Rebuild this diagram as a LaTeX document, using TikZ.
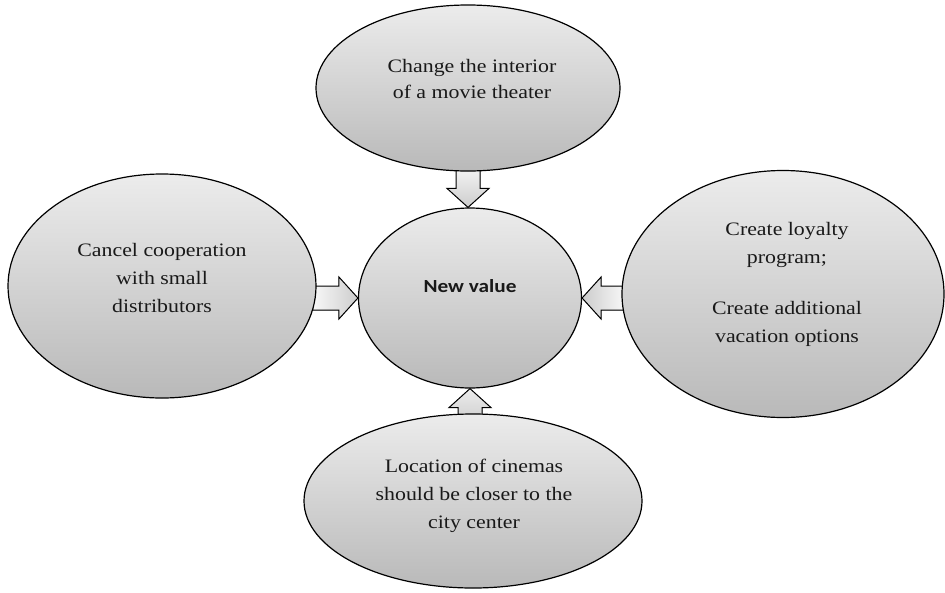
\documentclass[tikz,border=0pt]{standalone}
\usepackage{fontspec}
\setmainfont[FakeStretch=1.15]{Liberation Serif}
\newfontfamily\nvfont[FakeStretch=1.15]{Carlito}
\usetikzlibrary{shapes.geometric,calc,backgrounds}

\tikzset{
  bubble/.style={ellipse, draw=black, line width=1.2pt, top color=gray!15, bottom color=gray!55, inner sep=0pt},
  txt/.style={align=center, font=\fontsize{19}{28}\selectfont, inner sep=0pt, text=black!90, anchor=base},
  barrow/.style={draw=black, line width=1pt, line join=miter},
}

% #1 base coordinate, #2 tip coordinate, #3 shading options
\newcommand\blockarrow[3]{%
  \coordinate (#1h) at ($(#2)!19pt!(#1)$);
  \filldraw[barrow,#3]
    ($(#1)!12pt!90:(#2)$) -- ($(#1h)!12pt!90:(#2)$) -- ($(#1h)!21pt!90:(#2)$) -- (#2)
    -- ($(#1h)!21pt!-90:(#2)$) -- ($(#1h)!12pt!-90:(#2)$) -- ($(#1)!12pt!-90:(#2)$) -- cycle;
}

\begin{document}
\begin{tikzpicture}[x=1pt,y=-1pt]
\useasboundingbox (0,0) rectangle (945,592);

% ellipses
\node[bubble, minimum width=304pt, minimum height=166pt] (t) at (468,88) {};
\node[bubble, minimum width=223pt, minimum height=180pt] (c) at (470,298) {};
\node[bubble, minimum width=308pt, minimum height=224pt] (l) at (162,286) {};
\node[bubble, minimum width=322pt, minimum height=247pt] (r) at (783,294) {};
\node[bubble, minimum width=338pt, minimum height=174pt] (b) at (473,501) {};

% texts (anchor=base is the baseline of the last line)
\node[txt, font=\fontsize{19}{26.5}\selectfont] (tt) at (472,98.5)
  {Change the interior\\of a movie theater};
\node[txt] (lt) at (162,312)
  {Cancel cooperation\\with small\\distributors};
\node[txt] (rt) at (787,342)
  {Create loyalty\\program;\\[23pt]Create additional\\vacation options};
\node[txt] (bt) at (474,528)
  {Location of cinemas\\should be closer to the\\city center};
\node[txt, font=\nvfont\bfseries\fontsize{18.5}{22}\selectfont] (ct) at (470,292)
  {New value};

% block arrows behind the ellipses
\coordinate (ta) at ([yshift=4pt]t.south);
\coordinate (tb) at (ta |- c.north);
\coordinate (la) at ([xshift=-4pt]l.east |- c.west);
\coordinate (lb) at (c.west);
\coordinate (ra) at ([xshift=4pt]r.west |- c.east);
\coordinate (rb) at (c.east);
\coordinate (ba) at ([yshift=-4pt]c.south |- b.north);
\coordinate (bb) at (c.south);
\begin{scope}[on background layer]
  \blockarrow{ta}{tb}{top color=gray!8, bottom color=gray!40}
  \blockarrow{la}{lb}{left color=gray!5, right color=gray!40}
  \blockarrow{ra}{rb}{left color=gray!40, right color=gray!5}
  \blockarrow{ba}{bb}{top color=gray!15, bottom color=gray!35}
\end{scope}
\end{tikzpicture}
\end{document}
